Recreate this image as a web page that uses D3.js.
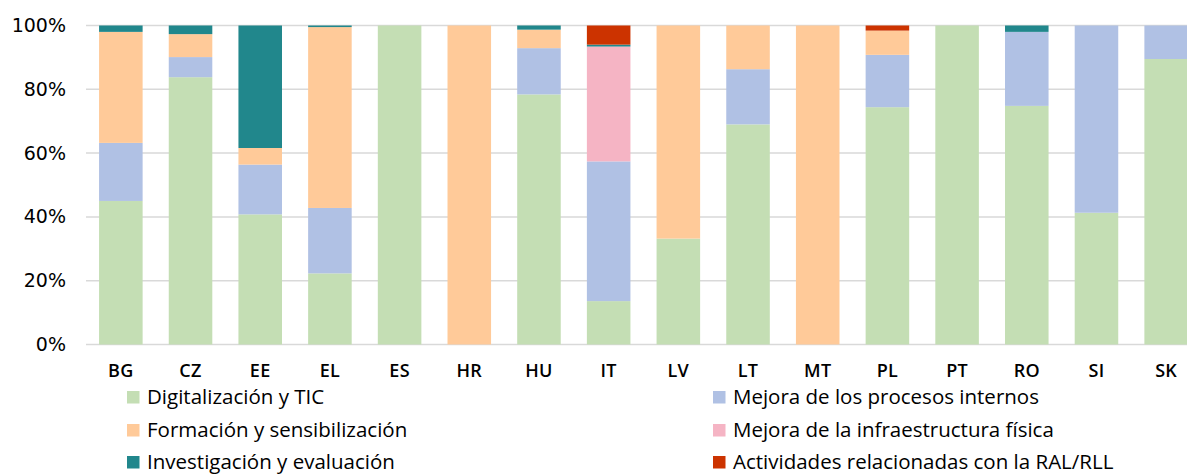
<!DOCTYPE html>
<meta charset="utf-8">
<style>
  html, body { margin: 0; padding: 0; overflow: hidden; background: #fff; }
  .axis text { font: normal 19px "DejaVu Sans"; fill: #000; }
  .cat text { font: 600 18px "Open Sans"; fill: #000; letter-spacing: 0.3px; }
  .legend text { font: normal 20.5px "Open Sans"; fill: #000; }
  .grid line { stroke: #d9d9d9; stroke-width: 1.5px; }
</style>
<svg></svg>
<script src="https://d3js.org/d3.v7.min.js"></script>
<script>

var countries = ["BG", "CZ", "EE", "EL", "ES", "HR", "HU", "IT", "LV", "LT", "MT", "PL", "PT", "RO", "SI", "SK"];

var digitalizacion = [45.0, 83.8, 40.8, 22.3, 100, 0, 78.4, 13.6, 33.2, 69.0, 0, 74.4, 100, 74.8, 41.3, 89.5];
var procesos       = [18.2, 6.3, 15.6, 20.5, 0, 0, 14.5, 43.8, 0, 17.3, 0, 16.4, 0, 23.2, 58.7, 10.5];
var formacion      = [34.8, 7.2, 5.2, 56.7, 0, 100, 5.8, 0, 66.8, 13.7, 100, 7.6, 0, 0, 0, 0];
var infraestructura = [0, 0, 0, 0, 0, 0, 0, 36.0, 0, 0, 0, 0, 0, 0, 0, 0];
var investigacion  = [2.0, 2.7, 38.4, 0.5, 0, 0, 1.3, 0.6, 0, 0, 0, 0, 0, 2.0, 0, 0];
var ral            = [0, 0, 0, 0, 0, 0, 0, 6.0, 0, 0, 0, 1.6, 0, 0, 0, 0];

var yTicks = [0, 20, 40, 60, 80, 100];

var series = [
  {key: "dig", name: "Digitalización y TIC", values: digitalizacion, colour: "#c4deb4"},
  {key: "pro", name: "Mejora de los procesos internos", values: procesos, colour: "#b0c1e4"},
  {key: "for", name: "Formación y sensibilización", values: formacion, colour: "#ffca99"},
  {key: "inf", name: "Mejora de la infraestructura física", values: infraestructura, colour: "#f5b4c4"},
  {key: "inv", name: "Investigación y evaluación", values: investigacion, colour: "#21878c"},
  {key: "ral", name: "Actividades relacionadas con la RAL/RLL", values: ral, colour: "#cc3300"}
];

var W = 1187, H = 474;

var svg = d3.select("svg")
    .attr("width", W)
    .attr("height", H);

var table = countries.map(function(c, i) {
  var row = {country: c};
  series.forEach(function(s) { row[s.key] = s.values[i]; });
  return row;
});

var x = d3.scaleBand()
    .domain(countries)
    .range([86, 1201])
    .paddingInner(0.375)
    .paddingOuter(0.1875);

var y = d3.scaleLinear()
    .domain([0, 100])
    .range([344.5, 25.5]);

// gridlines
svg.append("g")
    .attr("class", "grid")
  .selectAll("line")
    .data(yTicks)
  .enter().append("line")
    .attr("x1", 86)
    .attr("x2", W)
    .attr("y1", function(d) { return y(d); })
    .attr("y2", function(d) { return y(d); });

// y axis labels
svg.append("g")
    .attr("class", "axis")
    .attr("transform", "translate(66,0)")
    .call(d3.axisLeft(y).tickValues(yTicks).tickSize(0).tickPadding(0)
      .tickFormat(function(d) { return d + "%"; }))
    .call(function(g) { g.select(".domain").remove(); });

var stack = d3.stack().keys(series.map(function(s) { return s.key; }));
var stacked = stack(table);

svg.append("g")
  .selectAll("g")
    .data(stacked)
  .enter().append("g")
    .attr("fill", function(d, i) { return series[i].colour; })
  .selectAll("rect")
    .data(function(d) { return d; })
  .enter().append("rect")
    .attr("x", function(d) { return x(d.data.country); })
    .attr("width", x.bandwidth())
    .attr("y", function(d) { return y(d[1]); })
    .attr("height", function(d) { return y(d[0]) - y(d[1]); });

// category labels
svg.append("g")
    .attr("class", "cat")
  .selectAll("text")
    .data(countries)
  .enter().append("text")
    .attr("x", function(d) { return x(d) + x.bandwidth() / 2; })
    .attr("y", 377)
    .attr("text-anchor", "middle")
    .text(function(d) { return d; });

// legend, two columns
var legendX = [127, 713],
    legendY = [404, 437, 469];

var leg = svg.append("g")
    .attr("class", "legend")
  .selectAll("g")
    .data(series)
  .enter().append("g")
    .attr("transform", function(d, i) {
      return "translate(" + legendX[i % 2] + "," + legendY[Math.floor(i / 2)] + ")";
    });

leg.append("rect")
    .attr("x", 0)
    .attr("y", -13)
    .attr("width", 12.5)
    .attr("height", 12.5)
    .attr("fill", function(d) { return d.colour; });

leg.append("text")
    .attr("x", 20)
    .attr("y", 0)
    .text(function(d) { return d.name; });

</script>
